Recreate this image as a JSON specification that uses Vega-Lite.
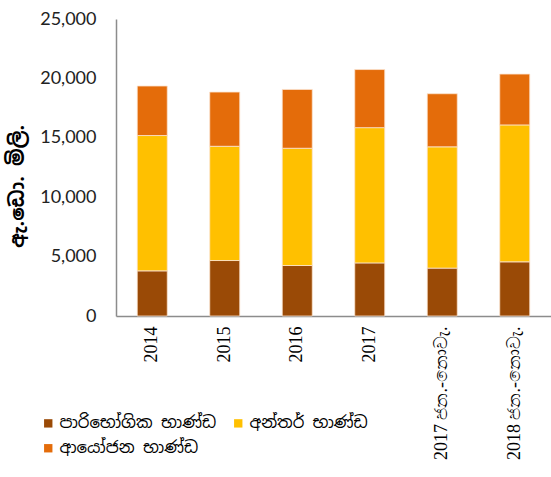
{
  "$schema": "https://vega.github.io/schema/vega-lite/v6.json",
  "width": 435,
  "height": 297,
  "autosize": {"type": "none"},
  "padding": {"left": 116, "top": 19, "right": 0, "bottom": 161},
  "background": "white",
  "data": {
    "values": [
      {"period": "2014", "type": "පාරිභෝගික භාණ්ඩ", "k": 1, "value": 3800},
      {"period": "2014", "type": "අන්තර් භාණ්ඩ", "k": 2, "value": 11390},
      {"period": "2014", "type": "ආයෝජන භාණ්ඩ", "k": 3, "value": 4170},
      {"period": "2015", "type": "පාරිභෝගික භාණ්ඩ", "k": 1, "value": 4670},
      {"period": "2015", "type": "අන්තර් භාණ්ඩ", "k": 2, "value": 9615},
      {"period": "2015", "type": "ආයෝජන භාණ්ඩ", "k": 3, "value": 4565},
      {"period": "2016", "type": "පාරිභෝගික භාණ්ඩ", "k": 1, "value": 4250},
      {"period": "2016", "type": "අන්තර් භාණ්ඩ", "k": 2, "value": 9870},
      {"period": "2016", "type": "ආයෝජන භාණ්ඩ", "k": 3, "value": 4950},
      {"period": "2017", "type": "පාරිභෝගික භාණ්ඩ", "k": 1, "value": 4470},
      {"period": "2017", "type": "අන්තර් භාණ්ඩ", "k": 2, "value": 11385},
      {"period": "2017", "type": "ආයෝජන භාණ්ඩ", "k": 3, "value": 4890},
      {"period": "2017 ජන.-නොවැ.", "type": "පාරිභෝගික භාණ්ඩ", "k": 1, "value": 4030},
      {"period": "2017 ජන.-නොවැ.", "type": "අන්තර් භාණ්ඩ", "k": 2, "value": 10210},
      {"period": "2017 ජන.-නොවැ.", "type": "ආයෝජන භාණ්ඩ", "k": 3, "value": 4470},
      {"period": "2018 ජන.-නොවැ.", "type": "පාරිභෝගික භාණ්ඩ", "k": 1, "value": 4560},
      {"period": "2018 ජන.-නොවැ.", "type": "අන්තර් භාණ්ඩ", "k": 2, "value": 11525},
      {"period": "2018 ජන.-නොවැ.", "type": "ආයෝජන භාණ්ඩ", "k": 3, "value": 4280}
    ]
  },
  "mark": {"type": "bar", "stroke": "#fbe3cf", "strokeWidth": 0.8},
  "encoding": {
    "x": {
      "field": "period",
      "type": "nominal",
      "sort": null,
      "scale": {"paddingInner": 0.586, "paddingOuter": 0.293},
      "axis": {
        "title": null,
        "labelAngle": -90,
        "labelAlign": "right",
        "labelBaseline": "middle",
        "labelFont": "Liberation Serif",
        "labelFontSize": 18,
        "labelColor": "#000000",
        "labelPadding": 10,
        "ticks": false,
        "domainColor": "#8c8c8c",
        "domainWidth": 1.5
      }
    },
    "y": {
      "field": "value",
      "type": "quantitative",
      "stack": "zero",
      "scale": {"domain": [0, 25000], "nice": false},
      "axis": {
        "title": "ඇ.ඩො. මිලි.",
        "titleFontSize": 20,
        "titleFontWeight": "bold",
        "titleColor": "#000000",
        "titleFont": "Noto Sans Sinhala, Noto Sans, sans-serif",
        "titleX": -89,
        "titleY": 167,
        "titleBaseline": "bottom",
        "values": [0, 5000, 10000, 15000, 20000, 25000],
        "format": ",d",
        "labelFont": "Lato",
        "labelFontSize": 18,
        "labelColor": "#222222",
        "labelPadding": 20,
        "ticks": false,
        "grid": false,
        "domainColor": "#8c8c8c",
        "domainWidth": 1.5
      }
    },
    "color": {
      "field": "type",
      "type": "nominal",
      "sort": ["පාරිභෝගික භාණ්ඩ", "අන්තර් භාණ්ඩ", "ආයෝජන භාණ්ඩ"],
      "scale": {
        "domain": ["පාරිභෝගික භාණ්ඩ", "අන්තර් භාණ්ඩ", "ආයෝජන භාණ්ඩ"],
        "range": ["#9a4a06", "#ffc000", "#e46c0a"]
      },
      "legend": {
        "title": null,
        "orient": "none",
        "legendX": -76,
        "legendY": 396,
        "direction": "horizontal",
        "columns": 2,
        "columnPadding": 13,
        "rowPadding": 8,
        "symbolType": "square",
        "symbolSize": 70,
        "symbolStrokeWidth": 0,
        "symbolOffset": 0,
        "labelFont": "Noto Sans Sinhala, Noto Sans, sans-serif",
        "labelFontSize": 16.5,
        "labelColor": "#000000",
        "labelOffset": 3,
        "labelLimit": 300
      }
    },
    "order": {"field": "k", "type": "quantitative"}
  },
  "config": {"view": {"stroke": null}}
}
